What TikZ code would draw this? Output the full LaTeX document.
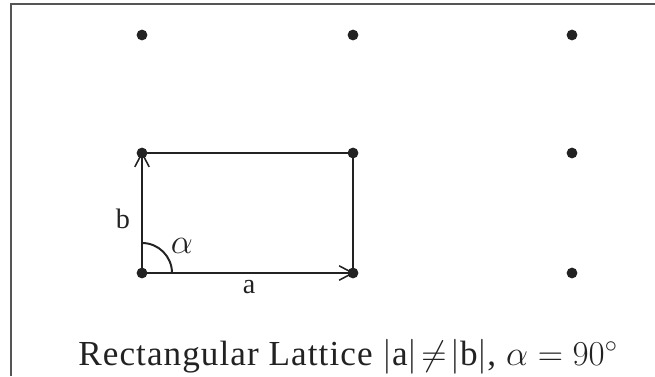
\documentclass[tikz,border=0pt]{standalone}
\usepackage{fontspec}
\setmainfont{Liberation Serif}
\usetikzlibrary{arrows.meta}
\definecolor{latticeink}{HTML}{222222}
\definecolor{framegray}{HTML}{555555}

\begin{document}
\begin{tikzpicture}[
    x=0.025cm, y=-0.025cm,
    latpoint/.style={circle, fill=latticeink, inner sep=0pt, minimum size=0.27cm},
    edge/.style={line width=1.4pt, latticeink},
    vec/.style={edge, -{Straight Barb[length=0.34cm, width=0.36cm, line width=1.1pt]}, shorten >=-1pt},
    lbl/.style={font=\fontsize{20}{22}\selectfont, text=latticeink, anchor=base, inner sep=0pt},
    frame/.style={line width=1.2pt, framegray},
]

\useasboundingbox (0,0) rectangle (655,376);

% === Frame (top and left edges) ===
\draw[frame] (11,376) -- (11,4) -- (655,4);

% === Lattice points ===
\foreach \x [count=\i] in {142,353,572} {
    \foreach \y [count=\j] in {273,153,35} {
        \node[latpoint] (p\i\j) at (\x,\y) {};
    }
}

% === Unit cell ===
\draw[edge] (p12.center) -- (p22.center) -- (p21.center);
\draw[vec] (p11.center) -- (p21.center);
\draw[vec] (p11.center) -- (p12.center);
\node[lbl] (la) at (249,293) {a};
\node[lbl] (lb) at (123,228) {b};

% Angle between a and b
\draw[edge] ([xshift=0.75cm]p11.center) arc[start angle=0, end angle=90, radius=0.75cm];
\node[lbl, font=\fontsize{27}{30}\selectfont] (alpha) at (182,253) {$\alpha$};

% === Caption ===
\node[anchor=base, font=\fontsize{25}{28}\selectfont\addfontfeature{LetterSpace=3}, text=latticeink] (caption) at (348,365)
    {Rectangular Lattice $|\mathrm{a}|\!\neq\!|\mathrm{b}|$, $\alpha=90^\circ$};

\end{tikzpicture}
\end{document}
